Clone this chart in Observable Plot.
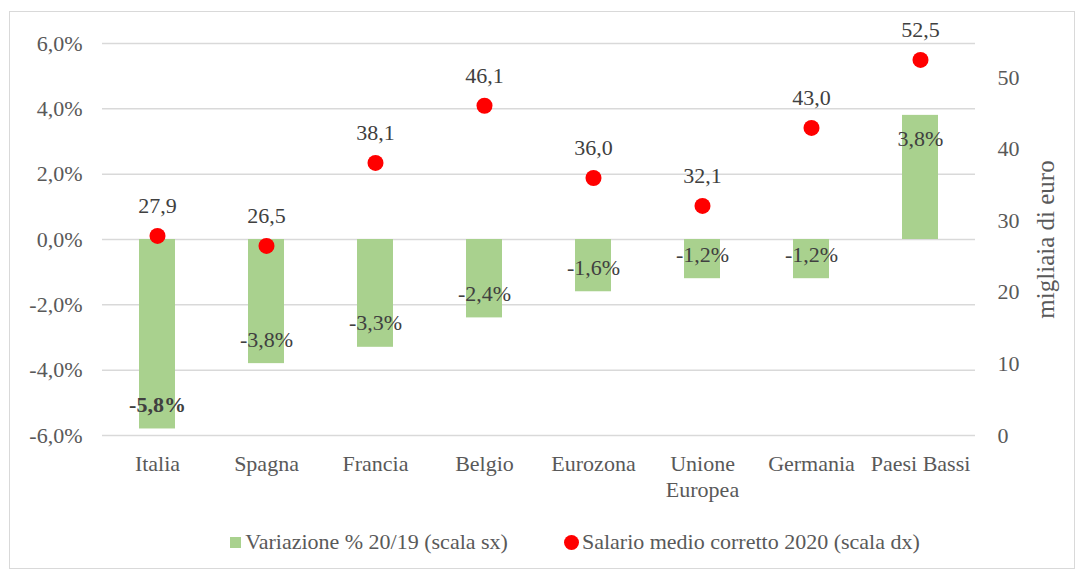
<!DOCTYPE html>
<html>
<head>
<meta charset="utf-8">
<script src="https://cdn.jsdelivr.net/npm/d3@7"></script>
<script src="https://cdn.jsdelivr.net/npm/@observablehq/plot@0.6"></script>
<style>
  html, body { margin: 0; padding: 0; background: #fff; }
  body { width: 1078px; height: 573px; position: relative; overflow: hidden; font-family: "Liberation Serif", "DejaVu Serif", serif; }
  #frame { position: absolute; left: 9px; top: 11px; width: 1064px; height: 556px; border: 1px solid #d9d9d9; pointer-events: none; }
  #chart { position: absolute; left: 0; top: 0; }
  #legend { position: absolute; left: 36px; top: 529px; width: 1078px; display: flex; justify-content: center; align-items: center; font-size: 22px; color: #595959; }
  .item { display: flex; align-items: center; }
  .sq { width: 11px; height: 11px; background: #A9D18E; margin-right: 4px; }
  .ci { width: 15px; height: 15px; border-radius: 50%; background: #FF0000; margin-right: 3px; }
</style>
</head>
<body>
<div id="chart"></div>
<div id="legend"></div>
<div id="frame"></div>
<script>
const countries = ["Italia", "Spagna", "Francia", "Belgio", "Eurozona", "Unione\nEuropea", "Germania", "Paesi Bassi"];
const variation = [-5.8, -3.8, -3.3, -2.4, -1.6, -1.2, -1.2, 3.8];
const salary = [27.9, 26.5, 38.1, 46.1, 36.0, 32.1, 43.0, 52.5];
const leftTicks = [-6, -4, -2, 0, 2, 4, 6];
const rightTicks = [0, 10, 20, 30, 40, 50];
const seriesNames = ["Variazione % 20/19 (scala sx)", "Salario medio corretto 2020 (scala dx)"];

const RMAX = 54.8;
const toLeft = v => -6 + v * 12 / RMAX;
const fromLeft = p => (p + 6) * RMAX / 12;
const fmtPct = v => v.toFixed(1).replace(".", ",") + "%";
const fmtNum = v => v.toFixed(1).replace(".", ",");

const data = countries.map((c, i) => ({ c, v: variation[i], s: salary[i], sl: toLeft(salary[i]) }));

const textColor = "#595959";
const labelColor = "#404040";
const FS = 22;

const plot = Plot.plot({
  width: 1078,
  height: 515,
  marginLeft: 102,
  marginRight: 103,
  marginTop: 43,
  marginBottom: 80,
  style: { fontFamily: "'Liberation Serif', 'DejaVu Serif', serif", fontSize: FS + "px", color: textColor, background: "transparent" },
  x: { domain: countries, paddingInner: 0.67, paddingOuter: 0.335 },
  y: { domain: [-6, 6] },
  marks: [
    Plot.gridY(leftTicks, { stroke: "#d9d9d9", strokeOpacity: 1, strokeWidth: 1.5 }),
    Plot.axisY(leftTicks, { anchor: "left", tickSize: 0, tickPadding: 20, tickFormat: fmtPct, label: null, fill: textColor, fontSize: FS }),
    Plot.axisY(rightTicks.map(toLeft), { anchor: "right", tickSize: 0, tickPadding: 22, tickFormat: d => String(Math.round(fromLeft(d))), textAnchor: "start", label: null, fill: textColor, fontSize: FS }),
    Plot.text(["migliaia di euro"], { frameAnchor: "right", textAnchor: "middle", rotate: -90, dx: 70, fill: textColor, fontSize: 25 }),
    Plot.axisX({ tickSize: 0, tickPadding: 18, label: null, fill: textColor, fontSize: FS, lineHeight: 1.15 }),
    Plot.barY(data, { x: "c", y1: 0, y2: "v", fill: "#A9D18E" }),
    Plot.text(data.filter(d => d.v < 0 && d.c !== "Italia"), { x: "c", y: "v", text: d => fmtPct(d.v), dy: -24, fill: labelColor, fontSize: FS }),
    Plot.text(data.filter(d => d.c === "Italia"), { x: "c", y: "v", text: d => fmtPct(d.v), dy: -24, fill: labelColor, fontSize: FS, fontWeight: "bold" }),
    Plot.text(data.filter(d => d.v >= 0), { x: "c", y: "v", text: d => fmtPct(d.v), dy: 24, fill: labelColor, fontSize: FS }),
    Plot.dot(data, { x: "c", y: "sl", r: 8, fill: "#FF0000", stroke: "none" }),
    Plot.text(data, { x: "c", y: "sl", text: d => fmtNum(d.s), dy: -30, fill: labelColor, fontSize: FS })
  ]
});
document.getElementById("chart").appendChild(plot);

const legend = document.getElementById("legend");
legend.innerHTML = `
  <div class="item"><div class="sq"></div><span>${seriesNames[0]}</span></div>
  <div style="width:56px"></div>
  <div class="item"><div class="ci"></div><span>${seriesNames[1]}</span></div>`;
</script>
</body>
</html>
